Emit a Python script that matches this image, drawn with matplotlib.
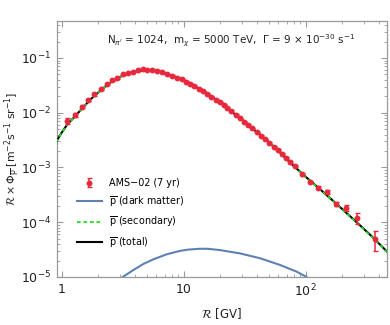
import numpy as np
import matplotlib
matplotlib.use('Agg')
import matplotlib.pyplot as plt
from matplotlib.ticker import FixedLocator, FixedFormatter, LogLocator, NullFormatter

# AMS-02 (7 yr) points: rigidity [GV], R x flux, relative error
ams_R = [1.11, 1.28, 1.46, 1.66, 1.86, 2.09, 2.34, 2.58, 2.86, 3.17,
         3.50, 3.85, 4.22, 4.62, 5.05, 5.52, 6.02, 6.65, 7.35, 8.05,
         8.8, 9.65, 10.5, 11.4, 12.3, 13.3, 14.4, 15.6, 16.9, 18.3,
         19.8, 21.3, 22.9, 24.6, 26.9, 29.0, 31.3, 34.0, 36.6, 39.8,
         43.2, 46.5, 50.5, 54.8, 59.1, 63.8, 69.2, 74.6, 82, 94,
         109, 127, 149, 178, 214, 263, 372]
ams_flux = [7.1e-3, 9.1e-3, 0.0129, 0.0171, 0.0217, 0.0268, 0.0330, 0.0397, 0.0430, 0.0503,
            0.0540, 0.0562, 0.0604, 0.0620, 0.0610, 0.0600, 0.0587, 0.0547, 0.0503, 0.0469,
            0.0437, 0.0408, 0.0370, 0.0335, 0.0306, 0.0277, 0.0247, 0.0220, 0.0196, 0.0174,
            0.0155, 0.0139, 0.0122, 0.0107, 0.0091, 0.0079, 0.00687, 0.00597, 0.0052, 0.0044,
            0.00376, 0.00327, 0.00284, 0.0024, 0.00209, 0.00177, 0.00151, 0.00128, 0.00106, 7.5e-4,
            5.5e-4, 4.3e-4, 3.6e-4, 2.15e-4, 1.84e-4, 1.21e-4, 4.9e-5]
ams_relerr = [0.13, 0.08, 0.06, 0.06, 0.05, 0.04, 0.04, 0.035, 0.03, 0.03,
              0.03, 0.03, 0.03, 0.03, 0.03, 0.03, 0.03, 0.03, 0.03, 0.03,
              0.03, 0.03, 0.03, 0.03, 0.03, 0.03, 0.03, 0.03, 0.03, 0.03,
              0.03, 0.03, 0.03, 0.03, 0.03, 0.03, 0.03, 0.03, 0.03, 0.03,
              0.03, 0.035, 0.035, 0.04, 0.04, 0.04, 0.045, 0.045, 0.05, 0.05,
              0.05, 0.06, 0.08, 0.09, 0.13, 0.22, 0.40]

# model curves
total_R = [0.9, 1.0, 1.12, 1.29, 1.5, 1.75, 2.0, 2.3, 2.6, 3.0, 3.5, 4.0, 4.6, 5.2, 5.8,
           6.5, 7.5, 8.5, 10, 12, 14, 17, 20, 25, 30, 40, 50, 60, 75, 100,
           130, 180, 260, 350, 470]
total_flux = [2.9e-3, 4.3e-3, 6.2e-3, 8.6e-3, 0.0125, 0.018, 0.0235, 0.0305, 0.0375, 0.045,
              0.052, 0.0565, 0.059, 0.0595, 0.058, 0.055, 0.050, 0.0455, 0.039, 0.0315,
              0.026, 0.0198, 0.0152, 0.0103, 0.0075, 0.0044, 0.0029, 0.0020, 1.22e-3, 6.8e-4,
              4.1e-4, 2.15e-4, 1.02e-4, 5.5e-5, 2.85e-5]
secondary_flux = [2.9e-3, 4.3e-3, 6.2e-3, 8.6e-3, 0.0125, 0.018, 0.0235, 0.0305, 0.0375, 0.045,
                  0.052, 0.0565, 0.059, 0.0595, 0.058, 0.055, 0.050, 0.0455, 0.039, 0.0315,
                  0.026, 0.0198, 0.0152, 0.0103, 0.0075, 0.0044, 0.0029, 0.0020, 1.21e-3, 6.7e-4,
                  4.05e-4, 2.12e-4, 1.0e-4, 5.4e-5, 2.8e-5]
dm_R = [3.0, 3.17, 3.88, 4.68, 5.65, 7.28, 9.36, 11.0, 13.6, 16.0, 19.9, 29, 42.4, 61.8, 84.7, 102, 110]
dm_flux = [9e-6, 1.0e-5, 1.34e-5, 1.73e-5, 2.1e-5, 2.6e-5, 3.0e-5, 3.17e-5, 3.28e-5, 3.27e-5,
           3.1e-5, 2.7e-5, 2.2e-5, 1.66e-5, 1.25e-5, 1.0e-5, 9e-6]

x_ticks = [1, 10, 100]
x_tick_labels = ['1', '10', '$10^2$']
y_ticks = [1e-5, 1e-4, 1e-3, 1e-2, 1e-1]
y_tick_labels = ['$10^{-5}$', '$10^{-4}$', '$10^{-3}$', '$10^{-2}$', '$10^{-1}$']

plt.rcParams['font.family'] = ['DejaVu Sans']
plt.rcParams['mathtext.fontset'] = 'dejavusans'

fig = plt.figure(figsize=(3.9, 3.25), dpi=100)
ax = fig.add_axes([57 / 390, 1 - 277 / 325, (386.5 - 57) / 390, (277 - 21) / 325])

ams_R = np.array(ams_R)
ams_flux = np.array(ams_flux)
err = ams_flux * np.array(ams_relerr)

ax.plot(dm_R, dm_flux, color='#5E81B5', lw=1.5, label=r'$\overline{\mathrm{p}}$ (dark matter)', zorder=2)
ax.plot(total_R, total_flux, color='black', lw=1.5, label=r'$\overline{\mathrm{p}}$ (total)', zorder=3)
ax.plot(total_R, secondary_flux, color='#22DD22', lw=1.3, dashes=(2, 1.6),
        label=r'$\overline{\mathrm{p}}$ (secondary)', zorder=4)
ax.errorbar(ams_R, ams_flux, yerr=err, fmt='o', color='#E8283C', ms=3.2, elinewidth=1.1,
            capsize=1.8, capthick=1.0, label='AMS\u221202 (7 yr)', zorder=5)

ax.set_xscale('log')
ax.set_yscale('log')
ax.set_xlim(0.918, 461)
ax.set_ylim(1e-5, 0.474)

ax.xaxis.set_major_locator(FixedLocator(x_ticks))
ax.xaxis.set_major_formatter(FixedFormatter(x_tick_labels))
ax.yaxis.set_major_locator(FixedLocator(y_ticks))
ax.yaxis.set_major_formatter(FixedFormatter(y_tick_labels))
ax.xaxis.set_minor_locator(LogLocator(base=10, subs=np.arange(2, 10), numticks=20))
ax.yaxis.set_minor_locator(LogLocator(base=10, subs=np.arange(2, 10), numticks=20))
ax.xaxis.set_minor_formatter(NullFormatter())
ax.yaxis.set_minor_formatter(NullFormatter())

frame_col = '#999999'
for s in ax.spines.values():
    s.set_color(frame_col)
    s.set_linewidth(0.9)
ax.tick_params(which='both', direction='in', top=True, right=True, color=frame_col,
               labelsize=9, labelcolor='#222222', pad=4)
ax.tick_params(which='major', length=4.5, width=0.8)
ax.tick_params(which='minor', length=2.5, width=0.6)

ax.set_xlabel(r'$\mathcal{R}$ [GV]', fontsize=8.5, color='#222222', labelpad=5)
ax.set_ylabel(r'$\mathcal{R}\times\Phi_{\overline{\mathrm{p}}}$ [m$^{-2}$s$^{-1}$ sr$^{-1}$]',
              fontsize=7.8, color='#222222')
ax.yaxis.set_label_coords(-0.104, 0.5)

ax.text(0.528, 0.955, r"N$_{\pi'}$ = 1024,  m$_{\chi}$ = 5000 TeV,  $\Gamma$ = 9 $\times$ 10$^{-30}$ s$^{-1}$",
        transform=ax.transAxes, ha='center', va='top', fontsize=7.5, color='#222222')

handles, labels = ax.get_legend_handles_labels()
order = [3, 0, 2, 1]
ax.legend([handles[i] for i in order], [labels[i] for i in order],
          loc='upper left', bbox_to_anchor=(77 / 390, 1 - 178 / 325), bbox_transform=fig.transFigure,
          frameon=False, fontsize=6.9, handlelength=2.6, handletextpad=0.7,
          labelspacing=0.6, borderpad=0, borderaxespad=0)

fig.savefig('out.png', dpi=100)
